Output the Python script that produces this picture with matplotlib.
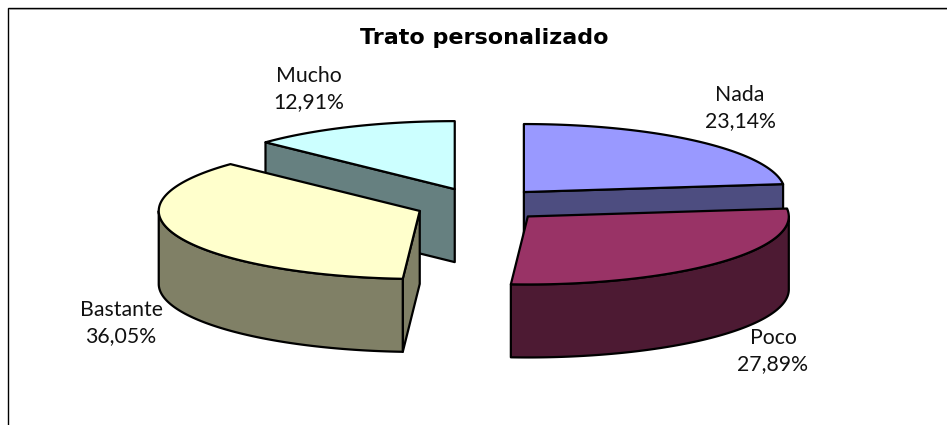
import numpy as np
import matplotlib
matplotlib.use("Agg")
import matplotlib.pyplot as plt
from matplotlib.patches import Polygon

plt.rcParams['font.family'] = ['Lato', 'DejaVu Sans']

title = "Trato personalizado"
names = ["Nada", "Poco", "Bastante", "Mucho"]
values = [23.14, 27.89, 36.05, 12.91]
top_colors = ["#9999FF", "#993366", "#FFFFCC", "#CCFFFF"]
side_colors = ["#4D4D80", "#4D1A33", "#808066", "#668080"]
label_pos = [(740, 108), (773, 351), (121, 323), (309, 89)]
draw_order = [3, 0, 2, 1]

# pie geometry in pixels
cx, cy = 480.5, 204.75
rx, ry = 261, 68
depth = 73
explode = 0.25
lw = 1.6


def arc(x0, y0, a, b, n=120):
    t = np.radians(np.linspace(a, b, n))
    return np.column_stack([x0 + rx * np.sin(t), y0 - ry * np.cos(t)])


def draw_slice(ax, a, b, top, side):
    mid = np.radians((a + b) / 2)
    x0 = cx + explode * rx * np.sin(mid)
    y0 = cy - explode * ry * np.cos(mid)
    down = np.array([0, depth])
    apex = np.array([x0, y0])

    # cut faces, only those turned towards the viewer
    for ang, visible in [(a, np.sin(np.radians(a)) < -1e-6), (b, np.sin(np.radians(b)) > 1e-6)]:
        if visible:
            p = arc(x0, y0, ang, ang, 1)[0]
            ax.add_patch(Polygon([apex, p, p + down, apex + down], closed=True, facecolor=side,
                                 edgecolor="black", linewidth=lw, joinstyle="round"))

    # outer wall, front half of the ellipse
    lo, hi = max(a, 90), min(b, 270)
    if lo < hi:
        edge = arc(x0, y0, lo, hi)
        ax.add_patch(Polygon(np.vstack([edge, edge[::-1] + down]), closed=True, facecolor=side,
                             edgecolor="black", linewidth=lw, joinstyle="round"))

    ax.add_patch(Polygon(np.vstack([apex, arc(x0, y0, a, b)]), closed=True, facecolor=top,
                         edgecolor="black", linewidth=lw, joinstyle="round"))


def main():
    fig = plt.figure(figsize=(9.47, 4.25), dpi=100)
    ax = fig.add_axes([0, 0, 1, 1])
    ax.set_xlim(0, 947)
    ax.set_ylim(425, 0)
    ax.axis("off")

    # chart frame, cut off at the right and the bottom of the picture
    ax.plot([8, 8, 947], [425, 8, 8], color="black", linewidth=1.0, solid_joinstyle="miter")
    ax.plot([9, 947], [9.3, 9.3], color="#999999", linewidth=0.7)

    shares = np.array(values) / sum(values) * 360
    ends = np.cumsum(shares)
    starts = ends - shares
    for i in draw_order:
        draw_slice(ax, starts[i], ends[i], top_colors[i], side_colors[i])

    for name, val, pos in zip(names, values, label_pos):
        label = name + "\n" + f"{val:.2f}".replace(".", ",") + "%"
        ax.text(pos[0], pos[1], label, ha="center", va="center", fontsize=15.3, color="#111111", linespacing=1.35)

    ax.text(484, 38, title, ha="center", va="center", fontsize=16, fontweight="bold", color="black",
            family="DejaVu Sans")
    fig.savefig("out.png", dpi=100)


if __name__ == "__main__":
    main()
